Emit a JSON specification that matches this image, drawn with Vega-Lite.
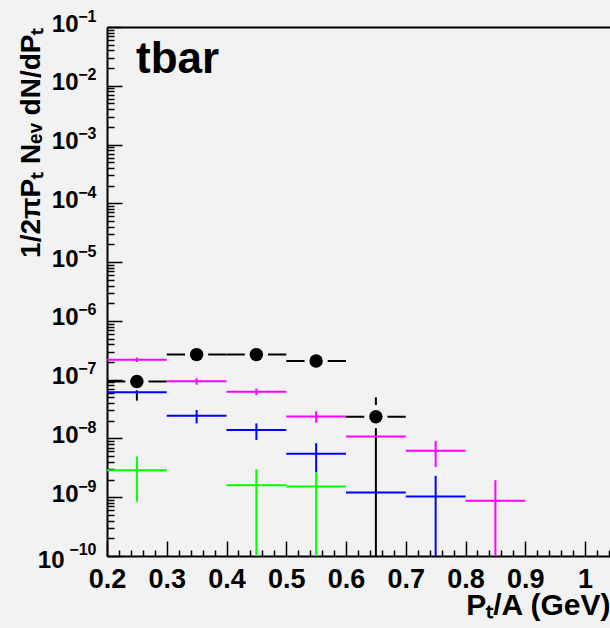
{
  "$schema": "https://vega.github.io/schema/vega-lite/v6.json",
  "width": 503,
  "height": 529,
  "autosize": "none",
  "padding": {"left": 107, "top": 27, "right": 0, "bottom": 72},
  "background": "#f2f2f2",
  "config": {"view": {"stroke": null}, "axis": {"grid": false}, "font": "Liberation Sans"},
  "title": {"text": "tbar", "anchor": "start", "frame": "group", "orient": "top", "fontSize": 44, "font": "Liberation Sans", "fontWeight": "bold", "color": "black", "baseline": "alphabetic", "dx": 29, "dy": 61, "offset": -48},
  "datasets": {
    "pts": [
      {"s": "black", "x": 0.25, "xlo": 0.2, "xhi": 0.3, "y": 9.3e-8, "ylo": 4.4e-8, "yhi": 1.42e-7},
      {"s": "black", "x": 0.35, "xlo": 0.3, "xhi": 0.4, "y": 2.67e-7, "ylo": 2.5e-7, "yhi": 2.85e-7},
      {"s": "black", "x": 0.45, "xlo": 0.4, "xhi": 0.5, "y": 2.67e-7, "ylo": 2.5e-7, "yhi": 2.85e-7},
      {"s": "black", "x": 0.55, "xlo": 0.5, "xhi": 0.6, "y": 2.08e-7, "ylo": 1.9e-7, "yhi": 2.26e-7},
      {"s": "black", "x": 0.65, "xlo": 0.6, "xhi": 0.7, "y": 2.34e-8, "ylo": 1e-10, "yhi": 5.0e-8},
      {"s": "magenta", "x": 0.25, "xlo": 0.2, "xhi": 0.3, "y": 2.19e-7, "ylo": 2.0e-7, "yhi": 2.38e-7},
      {"s": "magenta", "x": 0.35, "xlo": 0.3, "xhi": 0.4, "y": 9.4e-8, "ylo": 8.2e-8, "yhi": 1.06e-7},
      {"s": "magenta", "x": 0.45, "xlo": 0.4, "xhi": 0.5, "y": 6.25e-8, "ylo": 5.45e-8, "yhi": 7.05e-8},
      {"s": "magenta", "x": 0.55, "xlo": 0.5, "xhi": 0.6, "y": 2.37e-8, "ylo": 1.85e-8, "yhi": 2.89e-8},
      {"s": "magenta", "x": 0.65, "xlo": 0.6, "xhi": 0.7, "y": 1.08e-8, "ylo": 1.08e-8, "yhi": 1.08e-8},
      {"s": "magenta", "x": 0.75, "xlo": 0.7, "xhi": 0.8, "y": 6.17e-9, "ylo": 3.25e-9, "yhi": 9.1e-9},
      {"s": "magenta", "x": 0.85, "xlo": 0.8, "xhi": 0.9, "y": 8.7e-10, "ylo": 1e-10, "yhi": 1.95e-9},
      {"s": "blue", "x": 0.25, "xlo": 0.2, "xhi": 0.3, "y": 6.08e-8, "ylo": 5.6e-8, "yhi": 6.6e-8},
      {"s": "blue", "x": 0.35, "xlo": 0.3, "xhi": 0.4, "y": 2.44e-8, "ylo": 1.8e-8, "yhi": 3.05e-8},
      {"s": "blue", "x": 0.45, "xlo": 0.4, "xhi": 0.5, "y": 1.39e-8, "ylo": 9.4e-9, "yhi": 1.8e-8},
      {"s": "blue", "x": 0.55, "xlo": 0.5, "xhi": 0.6, "y": 5.48e-9, "ylo": 2.63e-9, "yhi": 8.3e-9},
      {"s": "blue", "x": 0.65, "xlo": 0.6, "xhi": 0.7, "y": 1.2e-9, "ylo": 1.2e-9, "yhi": 1.2e-9},
      {"s": "blue", "x": 0.75, "xlo": 0.7, "xhi": 0.8, "y": 1.03e-9, "ylo": 1e-10, "yhi": 2.31e-9},
      {"s": "green", "x": 0.25, "xlo": 0.2, "xhi": 0.3, "y": 2.89e-9, "ylo": 8.4e-10, "yhi": 4.93e-9},
      {"s": "green", "x": 0.45, "xlo": 0.4, "xhi": 0.5, "y": 1.6e-9, "ylo": 1e-10, "yhi": 3.0e-9},
      {"s": "green", "x": 0.55, "xlo": 0.5, "xhi": 0.6, "y": 1.52e-9, "ylo": 1e-10, "yhi": 2.64e-9}
    ]
  },
  "data": {"name": "pts"},
  "resolve": {"axis": {"x": "independent", "y": "independent"}},
  "layer": [
    {
      "transform": [{"filter": "datum.s === 'black'"}],
      "mark": {"type": "rule", "strokeWidth": 2, "color": "black"},
      "encoding": {
        "x": {"field": "xlo", "type": "quantitative",
          "scale": {"domain": [0.2, 1.0418], "nice": false, "zero": false},
          "axis": {"orient": "bottom", "values": [0.2, 0.3, 0.4, 0.5, 0.6, 0.7, 0.8, 0.9, 1.0], "format": "~g",
            "tickSize": -15, "tickWidth": 1.5, "tickColor": "black", "domainColor": "black", "domainWidth": 2,
            "labelFont": "Liberation Sans", "labelFontWeight": "bold", "labelFontSize": 27, "labelColor": "black",
            "labelPadding": 25, "labelOverlap": false, "labelFlush": false, "labelBound": false,
            "title": "P\u209c/A (GeV)", "titleFont": "Liberation Sans", "titleFontWeight": "bold", "titleFontSize": 30, "titleColor": "black",
            "titleAnchor": "end", "titleAlign": "right", "titlePadding": -2}},
        "x2": {"field": "xhi"},
        "y": {"field": "y", "type": "quantitative",
          "scale": {"type": "log", "domain": [1e-10, 0.1], "nice": false},
          "axis": {"orient": "left", "values": [1e-10, 1e-9, 1e-8, 1e-7, 1e-6, 1e-5, 1e-4, 1e-3, 1e-2, 1e-1],
            "labelExpr": "'10'",
            "tickSize": -15, "tickWidth": 1.5, "tickColor": "black", "domainColor": "black", "domainWidth": 2,
            "labelFont": "Liberation Sans", "labelFontWeight": "bold", "labelFontSize": 24, "labelColor": "black",
            "labelPadding": {"condition": {"test": "datum.value < 5e-10", "value": 58}, "value": 44},
            "labelOffset": {"condition": {"test": "datum.value < 5e-10", "value": 4}, "value": -3},
            "labelBaseline": "middle", "labelAlign": "right",
            "labelOverlap": false, "labelFlush": false, "labelBound": false,
            "title": "1/2\u03c0P\u209c N\u2091\u1d65 dN/dP\u209c", "titleFont": "Liberation Sans", "titleFontWeight": "bold", "titleFontSize": 28, "titleColor": "black",
            "titleAnchor": "end", "titlePadding": -8}}
      }
    },
    {
      "transform": [{"filter": "datum.s === 'black'"}],
      "mark": {"type": "rule", "strokeWidth": 2, "color": "black"},
      "encoding": {
        "x": {"field": "x", "type": "quantitative",
          "scale": {"domain": [0.2, 1.0418], "nice": false, "zero": false},
          "axis": {"orient": "bottom", "values": [0.22, 0.24, 0.26, 0.28, 0.32, 0.34, 0.36, 0.38, 0.42, 0.44, 0.46, 0.48, 0.52, 0.54, 0.56, 0.58, 0.62, 0.64, 0.66, 0.68, 0.72, 0.74, 0.76, 0.78, 0.82, 0.84, 0.86, 0.88, 0.92, 0.94, 0.96, 0.98, 1.02, 1.04],
            "tickSize": -6, "tickWidth": 1.5, "tickColor": "black", "domain": false, "labels": false, "title": null}},
        "y": {"field": "ylo", "type": "quantitative",
          "scale": {"type": "log", "domain": [1e-10, 0.1], "nice": false},
          "axis": {"orient": "left", "values": [2e-10, 3e-10, 4e-10, 5e-10, 6e-10, 7e-10, 8e-10, 9e-10, 2e-9, 3e-9, 4e-9, 5e-9, 6e-9, 7e-9, 8e-9, 9e-9, 2e-8, 3e-8, 4e-8, 5e-8, 6e-8, 7e-8, 8e-8, 9e-8, 2e-7, 3e-7, 4e-7, 5e-7, 6e-7, 7e-7, 8e-7, 9e-7, 2e-6, 3e-6, 4e-6, 5e-6, 6e-6, 7e-6, 8e-6, 9e-6, 2e-5, 3e-5, 4e-5, 5e-5, 6e-5, 7e-5, 8e-5, 9e-5, 2e-4, 3e-4, 4e-4, 5e-4, 6e-4, 7e-4, 8e-4, 9e-4, 0.002, 0.003, 0.004, 0.005, 0.006, 0.007, 0.008, 0.009, 0.02, 0.03, 0.04, 0.05, 0.06, 0.07, 0.08, 0.09],
            "tickSize": -7, "tickWidth": 1.5, "tickColor": "black", "domain": false, "labels": false, "title": null}},
        "y2": {"field": "yhi"}
      }
    },
    {
      "transform": [{"filter": "datum.s === 'black'"}],
      "mark": {"type": "point", "shape": "circle", "filled": true, "color": "#f2f2f2", "opacity": 1, "size": 540},
      "encoding": {
        "x": {"field": "x", "type": "quantitative",
          "scale": {"domain": [0.2, 1.0418], "nice": false, "zero": false},
          "axis": {"orient": "top", "ticks": false, "labels": false, "domain": true, "domainColor": "black", "domainWidth": 2, "title": null}},
        "y": {"field": "y", "type": "quantitative",
          "scale": {"type": "log", "domain": [1e-10, 0.1], "nice": false},
          "axis": {"orient": "left", "values": [1e-10, 1e-9, 1e-8, 1e-7, 1e-6, 1e-5, 1e-4, 1e-3, 1e-2, 1e-1],
            "labelExpr": "'\u2212' + round(-log(datum.value) / LN10)",
            "ticks": false, "domain": false,
            "labelFont": "Liberation Sans", "labelFontWeight": "bold", "labelFontSize": 16, "labelColor": "black",
            "labelPadding": 11,
            "labelOffset": {"condition": {"test": "datum.value < 5e-10", "value": -7}, "value": -11},
            "labelBaseline": "middle", "labelAlign": "right",
            "labelOverlap": false, "labelFlush": false, "labelBound": false, "title": null}}
      }
    },
    {
      "transform": [{"filter": "datum.s === 'black'"}],
      "mark": {"type": "point", "shape": "circle", "filled": true, "color": "black", "opacity": 1, "size": 180},
      "encoding": {
        "x": {"field": "x", "type": "quantitative", "scale": {"domain": [0.2, 1.0418], "nice": false, "zero": false}, "axis": null},
        "y": {"field": "y", "type": "quantitative", "scale": {"type": "log", "domain": [1e-10, 0.1], "nice": false}, "axis": null}
      }
    },
    {
      "transform": [{"filter": "datum.s !== 'black'"}],
      "mark": {"type": "rule", "strokeWidth": 2},
      "encoding": {
        "x": {"field": "xlo", "type": "quantitative", "scale": {"domain": [0.2, 1.0418], "nice": false, "zero": false}, "axis": null},
        "x2": {"field": "xhi"},
        "y": {"field": "y", "type": "quantitative", "scale": {"type": "log", "domain": [1e-10, 0.1], "nice": false}, "axis": null},
        "color": {"field": "s", "type": "nominal", "scale": {"domain": ["black", "magenta", "blue", "green"], "range": ["#000000", "#ff00ff", "#0000ff", "#00ff00"]}, "legend": null}
      }
    },
    {
      "transform": [{"filter": "datum.s !== 'black'"}],
      "mark": {"type": "rule", "strokeWidth": 2},
      "encoding": {
        "x": {"field": "x", "type": "quantitative", "scale": {"domain": [0.2, 1.0418], "nice": false, "zero": false}, "axis": null},
        "y": {"field": "ylo", "type": "quantitative", "scale": {"type": "log", "domain": [1e-10, 0.1], "nice": false}, "axis": null},
        "y2": {"field": "yhi"},
        "color": {"field": "s", "type": "nominal", "scale": {"domain": ["black", "magenta", "blue", "green"], "range": ["#000000", "#ff00ff", "#0000ff", "#00ff00"]}, "legend": null}
      }
    }
  ]
}
